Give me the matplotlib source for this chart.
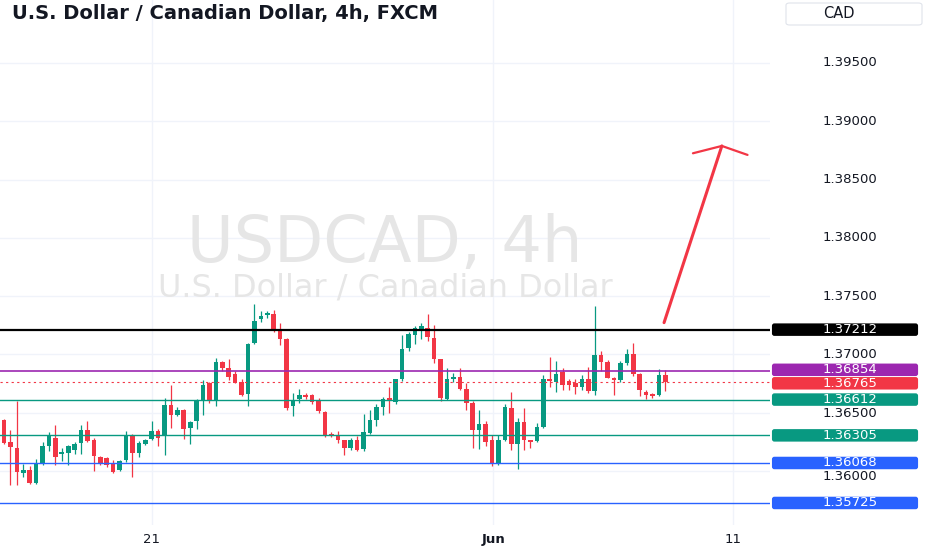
import numpy as np
import matplotlib
matplotlib.use("Agg")
from matplotlib import pyplot as plt
from matplotlib.patches import FancyBboxPatch

# USDCAD 4h candles
opens = [1.36434, 1.36244, 1.36198, 1.35983, 1.36009, 1.35894, 1.36060, 1.36210, 1.36282, 1.36147,
         1.36153, 1.36181, 1.36239, 1.36353, 1.36261, 1.36123, 1.36109, 1.36060, 1.36009, 1.36095,
         1.36310, 1.36153, 1.36233, 1.36270, 1.36339, 1.36296, 1.36569, 1.36480, 1.36526, 1.36368,
         1.36425, 1.36597, 1.36756, 1.36597, 1.36934, 1.36885, 1.36828, 1.36761, 1.36664, 1.37095,
         1.37302, 1.37336, 1.37345, 1.37216, 1.37129, 1.36560, 1.36618, 1.36655, 1.36647, 1.36597,
         1.36503, 1.36319, 1.36310, 1.36261, 1.36196, 1.36267, 1.36187, 1.36325, 1.36434, 1.36549,
         1.36627, 1.36589, 1.36785, 1.37058, 1.37164, 1.37201, 1.37230, 1.37144, 1.36957, 1.36618,
         1.36791, 1.36808, 1.36704, 1.36584, 1.36347, 1.36405, 1.36267, 1.36066, 1.36267, 1.36541,
         1.36233, 1.36416, 1.36261, 1.36253, 1.36377, 1.36791, 1.36761, 1.36847, 1.36770, 1.36750,
         1.36722, 1.36791, 1.36684, 1.36991, 1.36934, 1.36799, 1.36778, 1.36922, 1.37000, 1.36828,
         1.36675, 1.36661, 1.36647, 1.36819]
highs = [1.36445, 1.36353, 1.36597, 1.36060, 1.36046, 1.36103, 1.36244, 1.36330, 1.36397, 1.36198,
         1.36224, 1.36244, 1.36397, 1.36425, 1.36282, 1.36129, 1.36123, 1.36095, 1.36095, 1.36339,
         1.36319, 1.36253, 1.36270, 1.36425, 1.36360, 1.36627, 1.36733, 1.36549, 1.36532, 1.36425,
         1.36620, 1.36778, 1.36761, 1.36972, 1.36942, 1.36957, 1.36856, 1.36785, 1.37095, 1.37431,
         1.37373, 1.37373, 1.37382, 1.37267, 1.37144, 1.36670, 1.36704, 1.36670, 1.36664, 1.36627,
         1.36511, 1.36330, 1.36339, 1.36267, 1.36282, 1.36296, 1.36491, 1.36526, 1.36578, 1.36635,
         1.36722, 1.36785, 1.37164, 1.37192, 1.37239, 1.37273, 1.37345, 1.37250, 1.36963, 1.36885,
         1.36836, 1.36885, 1.36756, 1.36597, 1.36526, 1.36425, 1.36310, 1.36310, 1.36578, 1.36675,
         1.36454, 1.36541, 1.36267, 1.36411, 1.36819, 1.36980, 1.36942, 1.36885, 1.36791, 1.36791,
         1.36819, 1.36894, 1.37411, 1.37028, 1.36951, 1.36805, 1.36942, 1.37049, 1.37095, 1.36836,
         1.36698, 1.36670, 1.36871, 1.36865]
lows = [1.36232, 1.35879, 1.35879, 1.35951, 1.35888, 1.35888, 1.36052, 1.36167, 1.36052, 1.36089,
        1.36052, 1.36147, 1.36147, 1.36250, 1.36003, 1.36052, 1.36032, 1.35983, 1.36003, 1.36080,
        1.35951, 1.36123, 1.36224, 1.36267, 1.36210, 1.36138, 1.36368, 1.36468, 1.36273, 1.36233,
        1.36360, 1.36483, 1.36584, 1.36560, 1.36856, 1.36778, 1.36750, 1.36641, 1.36560, 1.37086,
        1.37278, 1.37308, 1.37192, 1.37078, 1.36526, 1.36468, 1.36584, 1.36618, 1.36578, 1.36497,
        1.36291, 1.36291, 1.36239, 1.36138, 1.36181, 1.36167, 1.36175, 1.36320, 1.36388, 1.36483,
        1.36497, 1.36578, 1.36770, 1.37028, 1.37086, 1.37129, 1.37115, 1.36922, 1.36597, 1.36612,
        1.36761, 1.36698, 1.36526, 1.36196, 1.36187, 1.36210, 1.36043, 1.36055, 1.36253, 1.36181,
        1.36015, 1.36181, 1.36196, 1.36244, 1.36368, 1.36722, 1.36675, 1.36692, 1.36698, 1.36664,
        1.36692, 1.36670, 1.36647, 1.36856, 1.36795, 1.36655, 1.36761, 1.36905, 1.36813, 1.36641,
        1.36618, 1.36627, 1.36641, 1.36684]
closes = [1.36240, 1.36204, 1.35994, 1.36009, 1.35894, 1.36060, 1.36216, 1.36296, 1.36123, 1.36164,
          1.36210, 1.36233, 1.36353, 1.36253, 1.36129, 1.36064, 1.36052, 1.35994, 1.36089, 1.36310,
          1.36153, 1.36239, 1.36261, 1.36339, 1.36282, 1.36569, 1.36483, 1.36526, 1.36360, 1.36416,
          1.36597, 1.36741, 1.36597, 1.36934, 1.36885, 1.36808, 1.36756, 1.36655, 1.37086, 1.37287,
          1.37330, 1.37353, 1.37209, 1.37135, 1.36541, 1.36597, 1.36655, 1.36635, 1.36589, 1.36511,
          1.36302, 1.36302, 1.36267, 1.36196, 1.36261, 1.36181, 1.36330, 1.36434, 1.36549, 1.36618,
          1.36597, 1.36785, 1.37049, 1.37172, 1.37222, 1.37244, 1.37153, 1.36963, 1.36627, 1.36791,
          1.36808, 1.36704, 1.36584, 1.36353, 1.36405, 1.36244, 1.36060, 1.36267, 1.36549, 1.36233,
          1.36416, 1.36261, 1.36244, 1.36373, 1.36791, 1.36770, 1.36828, 1.36741, 1.36741, 1.36722,
          1.36785, 1.36684, 1.36991, 1.36934, 1.36799, 1.36778, 1.36928, 1.37000, 1.36828, 1.36692,
          1.36655, 1.36641, 1.36819, 1.36765]

# horizontal levels drawn on the chart
level_values = [1.37212, 1.36854, 1.36612, 1.36305, 1.36068, 1.35725]
level_colors = ["#000000", "#9c27b0", "#089981", "#089981", "#2962ff", "#2962ff"]
level_widths = [1.6, 1.2, 1.0, 1.0, 1.0, 1.0]
last_price = 1.36765

price_ticks = [1.360, 1.365, 1.370, 1.375, 1.380, 1.385, 1.390, 1.395]
date_tick_pos = [23.0, 76.2, 113.6]
date_tick_labels = ["21", "Jun", "11"]

# hand drawn arrow (bar index, price)
arrow_shaft = [(102.8, 1.37272), (111.8, 1.38788)]
arrow_head = [(107.3, 1.38725), (111.8, 1.38788), (115.8, 1.38711)]

UP = "#089981"
DOWN = "#f23645"
TXT = "#131722"
PX = 1 / 11657  # price per pixel

fig = plt.figure(figsize=(9.32, 5.5), dpi=100)
ax = fig.add_axes([0, 25/550, 770/932, 525/550])
axr = fig.add_axes([770/932, 25/550, 162/932, 525/550])

ylo, yhi = 1.35536, 1.40040
ax.set_xlim(-0.62, 119.3)
ax.set_ylim(ylo, yhi)

o = np.array(opens); h = np.array(highs); l = np.array(lows); c = np.array(closes)
x = np.arange(len(o))
up = c >= o
cols = np.where(up, UP, DOWN)

ax.vlines(x, l, h, colors=cols, linewidth=0.9, zorder=3)
body_lo = np.minimum(o, c)
body_h = np.maximum(np.abs(c - o), 0.00004)
ax.bar(x, body_h, bottom=body_lo, width=0.72, color=cols, linewidth=0, zorder=4)

for v, col, lw in zip(level_values, level_colors, level_widths):
    ax.axhline(v, color=col, linewidth=lw, zorder=5)
ax.axhline(last_price, color=DOWN, linewidth=0.8, linestyle=(0, (2, 3)), zorder=5)

# arrow
ax.plot([p[0] for p in arrow_shaft], [p[1] for p in arrow_shaft], color=DOWN, lw=2.2,
        solid_capstyle="round", zorder=6)
ax.plot([p[0] for p in arrow_head], [p[1] for p in arrow_head], color=DOWN, lw=1.6,
        solid_capstyle="round", zorder=6)

# grid and axis
ax.set_yticks(price_ticks)
ax.set_xticks(date_tick_pos)
ax.set_xticklabels(date_tick_labels)
ax.tick_params(axis="y", left=False, labelleft=False)
ax.tick_params(axis="x", length=0, pad=6, labelsize=9.5, labelcolor=TXT)
for t in ax.get_xticklabels():
    if t.get_text() == "Jun":
        t.set_fontweight("bold")
ax.grid(True, color="#f0f3fa", linewidth=1.0, zorder=0)
ax.set_axisbelow(True)
for s in ax.spines.values():
    s.set_visible(False)

# watermark
ax.text(0.5, (525 - 262) / 525, "USDCAD, 4h", transform=ax.transAxes, ha="center",
        va="baseline", fontsize=46, color="#e6e6e6", zorder=1)
ax.text(0.5, (525 - 297) / 525, "U.S. Dollar / Canadian Dollar", transform=ax.transAxes,
        ha="center", va="baseline", fontsize=23, color="#e6e6e6", zorder=1)

# price scale: labels pushed apart like the platform does
axr.set_xlim(0, 1)
axr.set_ylim(ylo, yhi)
axr.axis("off")

box_vals = level_values + [last_price]
box_cols = level_colors + [DOWN]
order = np.argsort(box_vals)
pos = np.array(box_vals, dtype=float)
gap = 13.5 * PX
for _ in range(5):
    for a, b in zip(order[:-1], order[1:]):
        d = pos[b] - pos[a]
        if d < gap:
            pos[a] -= (gap - d) / 2
            pos[b] += (gap - d) / 2

for p in price_ticks:
    yp = p
    near = [q for q in pos if abs(q - p) < gap]
    if near:
        q = near[0]
        yp = q - gap if p < q else q + gap
    axr.text(0.494, yp, f"{p:.5f}", ha="center", va="center", fontsize=9.5, color=TXT, zorder=2)

box_h = 12.5 * PX
for v, yp, col in zip(box_vals, pos, box_cols):
    axr.add_patch(FancyBboxPatch((0.012, yp - box_h / 2), 0.902, box_h,
                                 boxstyle="round,pad=0,rounding_size=0.015",
                                 mutation_aspect=162 * PX, facecolor=col,
                                 edgecolor="none", zorder=3))
    axr.text(0.494, yp, f"{v:.5f}", ha="center", va="center", fontsize=9.5,
             color="white", zorder=4)

# header
fig.text(12/932, 1 - 13/550, "U.S. Dollar / Canadian Dollar, 4h, FXCM", ha="left",
         va="center", fontsize=14, fontweight="bold", color=TXT)
fig.patches.append(FancyBboxPatch((786/932, 1 - 25/550), 136/932, 22/550,
                                  boxstyle="round,pad=0,rounding_size=0.004",
                                  transform=fig.transFigure, facecolor="white",
                                  edgecolor="#e0e3eb", linewidth=0.8))
fig.text(839/932, 1 - 14/550, "CAD", ha="center", va="center", fontsize=10.5, color=TXT)

fig.savefig("out.png", dpi=100)
